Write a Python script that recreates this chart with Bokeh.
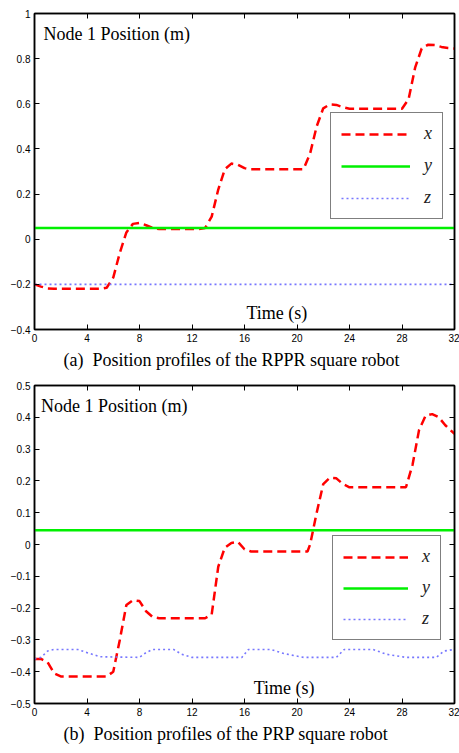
from bokeh.plotting import figure
from bokeh.models import Range1d, LinearAxis, FixedTicker, Legend, LegendItem, Label, Title
from bokeh.layouts import column
from bokeh.embed import file_html
from bokeh.resources import INLINE

# ---------------- (a) RPPR square robot ----------------
a_x_time = [0, 0.5, 1.0, 1.5, 5.0, 5.5, 6.0, 6.5, 7.0, 7.5, 8.0, 8.5, 9.0, 9.5, 12.5, 13.0,
            13.5, 14.0, 14.5, 15.0, 15.5, 16.0, 16.5, 20.5, 21.0, 21.5, 22.0, 22.5, 23.0,
            23.5, 24.0, 28.0, 28.5, 29.0, 29.5, 30.0, 30.5, 31.0, 31.5, 32.0]
a_x_pos = [-0.20, -0.21, -0.218, -0.22, -0.22, -0.215, -0.17, -0.06, 0.03, 0.068, 0.072, 0.062,
           0.05, 0.045, 0.045, 0.05, 0.10, 0.22, 0.31, 0.335, 0.33, 0.315, 0.31, 0.31, 0.38,
           0.50, 0.58, 0.597, 0.595, 0.585, 0.578, 0.578, 0.62, 0.76, 0.845, 0.862, 0.86,
           0.852, 0.847, 0.845]
a_y_time = [0, 32]
a_y_pos = [0.05, 0.05]
a_z_time = [0, 32]
a_z_pos = [-0.2, -0.2]
a_yticks = [-0.4, -0.2, 0, 0.2, 0.4, 0.6, 0.8, 1]
a_ytick_labels = ["\u22120.4", "\u22120.2", "0", "0.2", "0.4", "0.6", "0.8", "1"]
a_caption = "(a)\u2002Position profiles of the RPPR square robot"

# ---------------- (b) PRP square robot ----------------
b_x_time = [0, 0.5, 1.0, 1.5, 2.0, 5.5, 6.0, 6.5, 7.0, 7.5, 8.0, 8.5, 9.0, 9.5, 13.0, 13.5,
            14.0, 14.5, 15.0, 15.5, 16.0, 16.5, 20.8, 21.0, 21.5, 22.0, 22.5, 23.0, 23.5,
            24.0, 28.3, 28.8, 29.3, 29.8, 30.3, 30.8, 31.3, 32.0]
b_x_pos = [-0.36, -0.36, -0.37, -0.405, -0.415, -0.415, -0.40, -0.30, -0.19, -0.175, -0.178,
           -0.21, -0.228, -0.232, -0.232, -0.22, -0.07, -0.01, 0.005, 0.008, -0.015, -0.022,
           -0.022, 0.0, 0.10, 0.19, 0.21, 0.208, 0.19, 0.18, 0.18, 0.25, 0.36, 0.405, 0.41,
           0.40, 0.375, 0.348]
b_y_time = [0, 32]
b_y_pos = [0.045, 0.045]
b_z_time = [0, 0.5, 1.0, 1.5, 3.3, 4.0, 5.0, 8.0, 8.5, 9.0, 10.6, 11.2, 12.0, 15.8, 16.3,
            18.0, 19.0, 20.5, 23.0, 23.6, 25.8, 26.8, 28.3, 30.6, 31.2, 32.0]
b_z_pos = [-0.36, -0.355, -0.335, -0.33, -0.33, -0.34, -0.353, -0.355, -0.34, -0.33, -0.33,
           -0.345, -0.355, -0.355, -0.33, -0.33, -0.343, -0.355, -0.355, -0.33, -0.33,
           -0.345, -0.355, -0.355, -0.335, -0.33]
b_yticks = [-0.5, -0.4, -0.3, -0.2, -0.1, 0, 0.1, 0.2, 0.3, 0.4, 0.5]
b_ytick_labels = ["\u22120.5", "\u22120.4", "\u22120.3", "\u22120.2", "\u22120.1", "0",
                  "0.1", "0.2", "0.3", "0.4", "0.5"]
b_caption = "(b)\u2002Position profiles of the PRP square robot"

xticks = [0, 4, 8, 12, 16, 20, 24, 28, 32]
xtick_labels = ["0", "4", "8", "12", "16", "20", "24", "28", "32"]
series_names = ["x", "y", "z"]
title_text = "Node 1 Position (m)"
xlabel_text = "Time (s)"

SERIF = "Liberation Serif"
SANS = "Liberation Sans"


def style_axis(ax, ticks, labels, show):
    ax.ticker = FixedTicker(ticks=ticks)
    ax.major_tick_in = 5
    ax.major_tick_out = 0
    ax.minor_tick_line_color = None
    ax.axis_line_color = "black"
    ax.axis_line_width = 1.5
    ax.major_tick_line_color = "black"
    ax.major_tick_line_width = 1
    if show:
        ax.major_label_overrides = {t: l for t, l in zip(ticks, labels)}
        ax.major_label_text_font = SANS
        ax.major_label_text_font_size = "10px"
        ax.major_label_text_color = "black"
        ax.major_label_standoff = 4
    else:
        ax.major_label_overrides = {t: "" for t in ticks}
        ax.major_label_text_font_size = "0px"
        ax.major_label_standoff = 0


def panel(height, top, bottom, yr, yticks, ylabels, xs, ys, zs, title_pos, xlabel_pos,
          caption, cap_gap, leg_loc, glyph_w, spacing):
    p = figure(width=459, height=height, x_range=Range1d(0, 32), y_range=Range1d(*yr),
               output_backend="svg", toolbar_location=None,
               min_border_left=34, min_border_right=5, min_border_top=top,
               min_border_bottom=bottom)
    p.xgrid.visible = False
    p.ygrid.visible = False
    p.outline_line_color = "black"
    p.outline_line_width = 1.5
    p.background_fill_color = "white"
    p.border_fill_color = "white"

    style_axis(p.xaxis[0], xticks, xtick_labels, True)
    style_axis(p.yaxis[0], yticks, ylabels, True)
    top_ax = LinearAxis()
    right_ax = LinearAxis()
    style_axis(top_ax, xticks, xtick_labels, False)
    style_axis(right_ax, yticks, ylabels, False)
    p.add_layout(top_ax, "above")
    p.add_layout(right_ax, "right")

    # empty spacer axis: only pushes the caption a few pixels lower
    spacer = LinearAxis(ticker=FixedTicker(ticks=[]), axis_line_color=None,
                        major_tick_line_color=None, minor_tick_line_color=None,
                        major_tick_in=0, major_tick_out=0,
                        major_label_text_font_size="0px", major_label_standoff=cap_gap)
    p.add_layout(spacer, "below")

    rx = p.line(xs[0], xs[1], line_color="#ff0000", line_width=2.5, line_dash="9 5")
    ry = p.line(ys[0], ys[1], line_color="#00f000", line_width=2.5)
    rz = p.line(zs[0], zs[1], line_color="#7777ff", line_width=1.6, line_dash="2 3")

    legend = Legend(items=[LegendItem(label=series_names[0], renderers=[rx]),
                           LegendItem(label=series_names[1], renderers=[ry]),
                           LegendItem(label=series_names[2], renderers=[rz])],
                    location=leg_loc, orientation="vertical")
    legend.glyph_width = glyph_w
    legend.glyph_height = 18
    legend.label_height = 18
    legend.label_width = 8
    legend.spacing = spacing
    legend.padding = 10
    legend.margin = 0
    legend.label_standoff = 14
    legend.label_text_font = SERIF
    legend.label_text_font_style = "italic"
    legend.label_text_font_size = "18px"
    legend.label_text_color = "#222222"
    legend.border_line_color = "black"
    legend.border_line_width = 1.5
    legend.background_fill_color = "white"
    legend.background_fill_alpha = 1
    p.add_layout(legend, "center")

    p.add_layout(Label(x=title_pos[0], y=title_pos[1], text=title_text, text_font=SERIF,
                       text_font_size="18px", text_baseline="middle", text_align="left",
                       text_color="black"))
    p.add_layout(Label(x=xlabel_pos[0], y=xlabel_pos[1], text=xlabel_text, text_font=SERIF,
                       text_font_size="18px", text_baseline="middle", text_align="left",
                       text_color="black"))
    p.add_layout(Title(text=caption, align="left", offset=29, standoff=6,
                       text_font=SERIF, text_font_size="18px", text_font_style="normal",
                       text_color="black"), "below")
    return p


p1 = panel(377, 13, 48, (-0.4, 1), a_yticks, a_ytick_labels,
           (a_x_time, a_x_pos), (a_y_time, a_y_pos), (a_z_time, a_z_pos),
           (0.69, 0.907), (16.15, -0.325), a_caption, 5, (296, 110), 69, 11)
p2 = panel(374, 8, 48, (-0.5, 0.5), b_yticks, b_ytick_labels,
           (b_x_time, b_x_pos), (b_y_time, b_y_pos), (b_z_time, b_z_pos),
           (0.5, 0.437), (16.7, -0.45), b_caption, 5, (298, 63), 65, 10)

layout = column(p1, p2, spacing=0)
open("out.html", "w").write(file_html(layout, INLINE))
